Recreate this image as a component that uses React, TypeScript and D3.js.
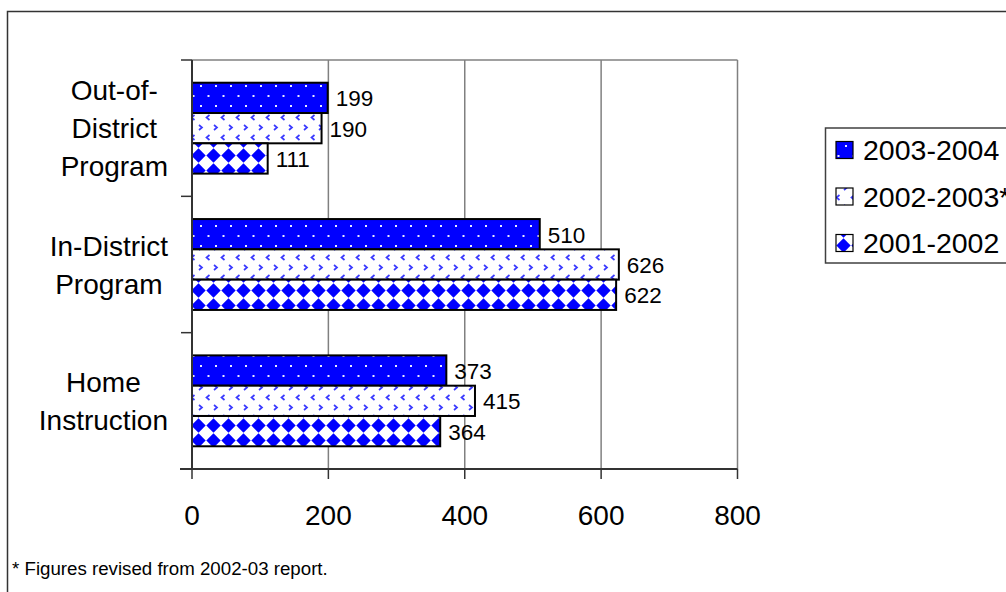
import React from "react";
import * as d3 from "d3";

// Enrollment by program type, three school years
const categories = ["Out-of-District Program", "In-District Program", "Home Instruction"];
const categoryLines = [["Out-of-", "District", "Program"], ["In-District", "Program"], ["Home", "Instruction"]];
const seriesNames = ["2003-2004", "2002-2003*", "2001-2002"];
const values2003_04 = [199, 510, 373];
const values2002_03 = [190, 626, 415];
const values2001_02 = [111, 622, 364];
const xTicks = [0, 200, 400, 600, 800];
const footnote = "* Figures revised from 2002-03 report.";

const seriesValues = [values2003_04, values2002_03, values2001_02];
const patternIds = ["pDots", "pChevron", "pDiamond"];

const FONT = "'Liberation Sans', Arial, sans-serif";
const W = 1006;
const H = 592;
const plot = { left: 192, right: 737.5, top: 60, bottom: 469 };

let measureCtx: CanvasRenderingContext2D | null = null;
function textWidth(s: string, size: number): number {
  if (!measureCtx) measureCtx = document.createElement("canvas").getContext("2d");
  if (!measureCtx) return s.length * size * 0.55;
  measureCtx.font = `${size}px 'Liberation Sans', Arial, sans-serif`;
  return measureCtx.measureText(s).width;
}

export default function App() {
  const x = d3.scaleLinear().domain([0, 800]).range([plot.left, plot.right]);
  const y = d3.scaleBand<string>().domain(categories).range([plot.top, plot.bottom]);
  const inner = d3
    .scaleBand<string>()
    .domain(seriesNames)
    .range([0, y.bandwidth()])
    .paddingInner(0)
    .paddingOuter(0.75);

  const catFont = 28;
  const lineGap = 38;
  const labelRight = 168;

  return (
    <svg width={W} height={H} style={{ position: "absolute", left: 0, top: 0, background: "#fff" }}>
      <defs>
        <pattern id="pDots" patternUnits="userSpaceOnUse" width={15} height={20} x={4} y={3}>
          <rect width={15} height={20} fill="#0000ff" />
          <rect x={1} y={2} width={2} height={2} fill="#e8e8ff" />
          <rect x={8.5} y={12} width={2} height={2} fill="#e8e8ff" />
        </pattern>
        <pattern id="pChevron" patternUnits="userSpaceOnUse" width={15} height={20} x={2} y={3}>
          <rect width={15} height={20} fill="#ffffff" />
          <path d="M2,2 L5,4.5 L2,7" fill="none" stroke="#3a3aff" strokeWidth={1.7} />
          <path d="M12.5,12 L9.5,14.5 L12.5,17" fill="none" stroke="#3a3aff" strokeWidth={1.7} />
        </pattern>
        <pattern id="pDiamond" patternUnits="userSpaceOnUse" width={15} height={15} x={-4} y={-2}>
          <rect width={15} height={15} fill="#ffffff" />
          <path d="M7.5,0.3 L14.7,7.5 L7.5,14.7 L0.3,7.5 Z" fill="#0000ff" />
        </pattern>
      </defs>

      {/* outer chart frame */}
      <rect x={7.5} y={11.5} width={1100} height={700} fill="none" stroke="#333" strokeWidth={1.5} />

      {/* plot border and gridlines */}
      <line x1={plot.left} x2={plot.right} y1={plot.top} y2={plot.top} stroke="#808080" strokeWidth={1.5} />
      {xTicks.slice(1).map((t) => (
        <line key={`g${t}`} x1={x(t)} x2={x(t)} y1={plot.top} y2={plot.bottom} stroke="#808080" strokeWidth={1.5} />
      ))}

      {/* bars */}
      {categories.map((c, ci) =>
        seriesNames.map((s, si) => {
          const v = seriesValues[si][ci];
          const by = (y(c) ?? 0) + (inner(s) ?? 0);
          const bh = inner.bandwidth();
          return (
            <g key={`${c}-${s}`}>
              <rect
                x={x(0)}
                y={by}
                width={x(v) - x(0)}
                height={bh}
                fill={`url(#${patternIds[si]})`}
                stroke="#000"
                strokeWidth={2}
              />
              <text
                x={x(v) + 8}
                y={by + bh / 2 + 1}
                fontFamily={FONT}
                fontSize={22.5}
                dominantBaseline="central"
                fill="#000"
              >
                {v}
              </text>
            </g>
          );
        })
      )}

      {/* axes */}
      <line x1={plot.left} x2={plot.left} y1={plot.top} y2={plot.bottom} stroke="#333" strokeWidth={2} />
      <line x1={plot.left - 12} x2={plot.right} y1={plot.bottom} y2={plot.bottom} stroke="#333" strokeWidth={2} />
      {[plot.top, ...categories.map((c) => (y(c) ?? 0) + y.bandwidth())].map((ty, i) => (
        <line key={`yt${i}`} x1={plot.left - 11} x2={plot.left} y1={ty} y2={ty} stroke="#333" strokeWidth={1.5} />
      ))}
      {xTicks.map((t) => (
        <g key={`xt${t}`}>
          <line x1={x(t)} x2={x(t)} y1={plot.bottom} y2={plot.bottom + 10} stroke="#333" strokeWidth={1.5} />
          <text x={x(t)} y={525} textAnchor="middle" fontFamily={FONT} fontSize={28} fill="#000">
            {t}
          </text>
        </g>
      ))}

      {/* category labels */}
      {categories.map((c, ci) => {
        const lines = categoryLines[ci];
        const maxW = Math.max(...lines.map((l) => textWidth(l, catFont)));
        const cx = labelRight - maxW / 2;
        const cy = (y(c) ?? 0) + y.bandwidth() / 2;
        const start = cy - ((lines.length - 1) * lineGap) / 2;
        return (
          <text key={`cl${c}`} textAnchor="middle" fontFamily={FONT} fontSize={catFont} fill="#000">
            {lines.map((l, li) => (
              <tspan key={li} x={cx} y={start + li * lineGap + 10}>
                {l}
              </tspan>
            ))}
          </text>
        );
      })}

      {/* legend */}
      <rect x={825.5} y={128} width={300} height={135} fill="#fff" stroke="#404040" strokeWidth={1.5} />
      {seriesNames.map((s, si) => {
        const cy = 150 + si * 46.5;
        return (
          <g key={`lg${s}`}>
            <rect x={836} y={cy - 8.5} width={17} height={17} fill={`url(#${patternIds[si]})`} stroke="#000" strokeWidth={1.2} />
            <text x={863} y={cy + 10} fontFamily={FONT} fontSize={28.5} fill="#000">
              {s}
            </text>
          </g>
        );
      })}

      {/* footnote */}
      <text x={12} y={575} fontFamily={FONT} fontSize={18.7} fill="#000">
        {footnote}
      </text>
    </svg>
  );
}
